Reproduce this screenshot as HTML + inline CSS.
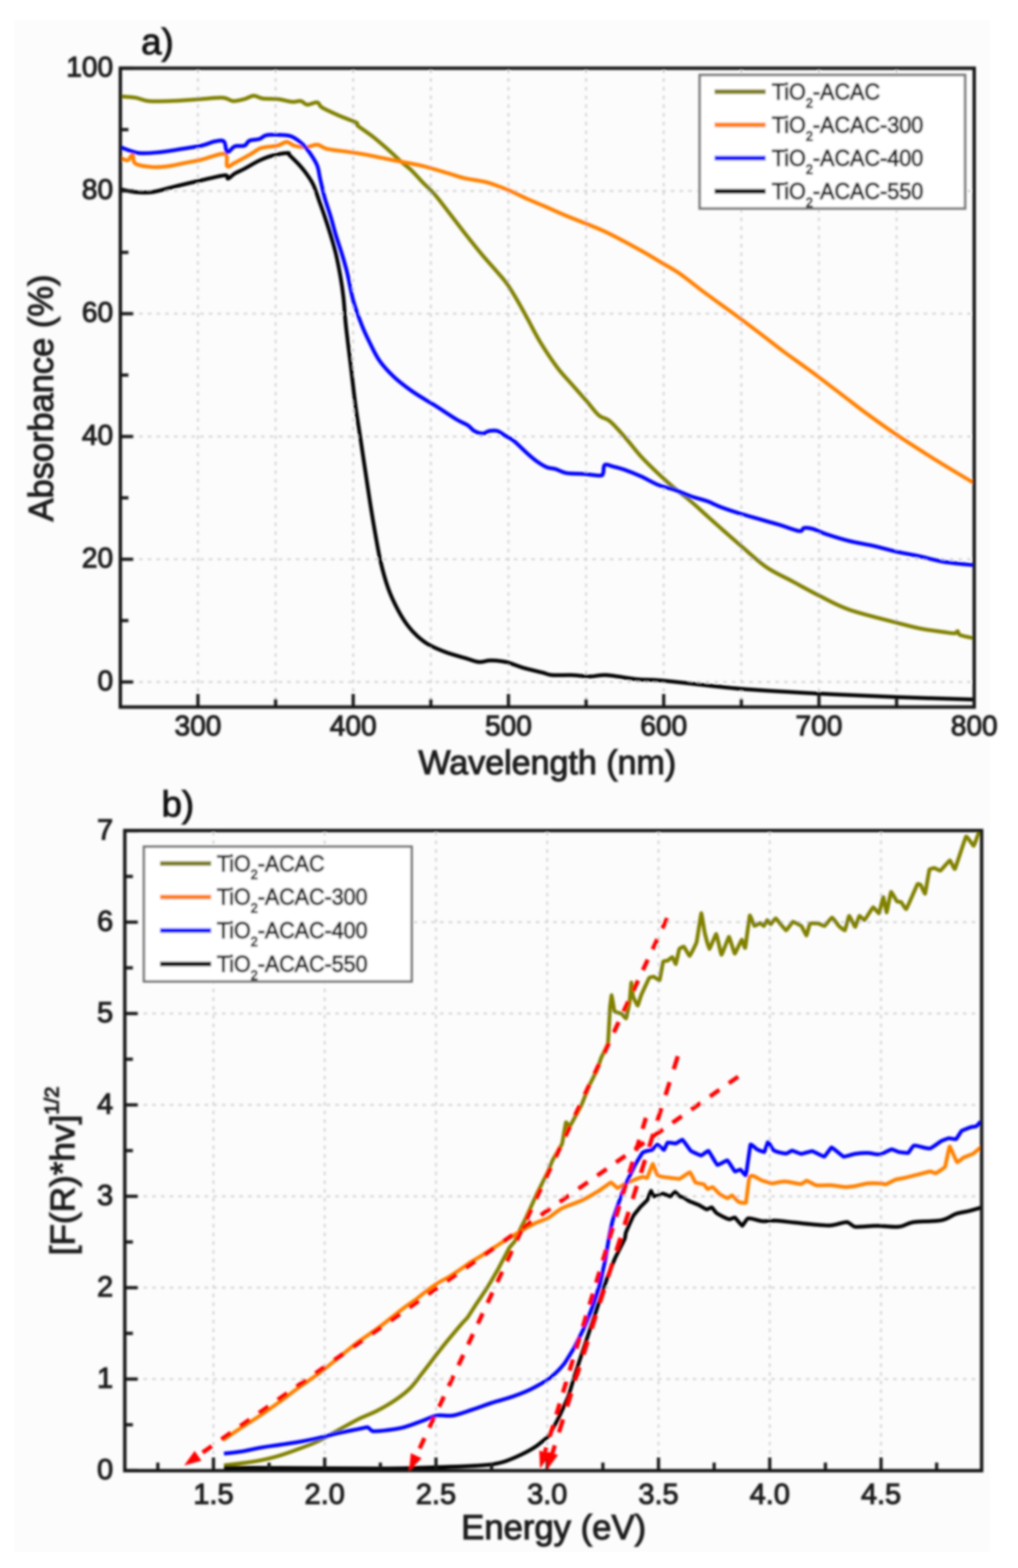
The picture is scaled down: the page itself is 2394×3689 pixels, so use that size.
<!DOCTYPE html>
<html><head><meta charset="utf-8"><title>Absorbance and Kubelka-Munk plots</title>
<style>html,body{margin:0;padding:0;background:#fff;}svg{display:block;}</style>
</head><body>
<svg width="2394" height="3689" viewBox="0 0 2394 3689">
<defs><filter id="bl" x="-5%" y="-5%" width="110%" height="110%"><feGaussianBlur stdDeviation="2.4"/></filter></defs>
<rect x="0" y="0" width="2394" height="3689" fill="#ffffff"/>
<rect x="34" y="48" width="2293" height="3603" fill="#fcfcfc"/>
<style>text{stroke:#1c1c1c;stroke-width:2.4px;}</style>
<g filter="url(#bl)">
<path d="M465.5,163.5V1660.5M648.1,163.5V1660.5M830.6,163.5V1660.5M1013.2,163.5V1660.5M1195.7,163.5V1660.5M1378.3,163.5V1660.5M1560.8,163.5V1660.5M1743.4,163.5V1660.5M1925.9,163.5V1660.5M2108.5,163.5V1660.5M286.0,1604.5H2288.0M286.0,1315.7H2288.0M286.0,1026.9H2288.0M286.0,738.1H2288.0M286.0,449.3H2288.0" stroke="#d4d4d4" stroke-width="4.5" stroke-dasharray="8.5 12" fill="none"/>
<path d="M283.9,226.8C289.7,227.3 307.8,228.1 318.8,229.9C329.8,231.7 336.9,236.4 349.9,237.7C362.8,239.0 382.3,238.0 396.5,237.7C410.7,237.4 422.4,236.5 435.3,235.7C448.2,234.9 459.3,234.0 474.2,233.0C489.1,232.0 512.4,229.1 524.7,229.9C537.0,230.7 539.6,237.2 548.0,237.7C556.4,238.2 567.0,235.1 575.1,233.0C583.2,230.9 589.4,225.4 596.5,225.2C603.6,225.0 608.5,230.5 617.9,231.8C627.3,233.1 641.1,231.7 652.8,233.0C664.4,234.3 678.7,238.8 687.8,239.6C696.9,240.4 701.4,236.6 707.2,237.7C713.0,238.8 716.2,245.7 722.7,246.2C729.2,246.7 740.2,239.6 746.0,240.8C751.8,242.0 748.9,247.9 757.7,253.2C766.5,258.5 785.5,266.8 798.8,272.7C812.1,278.6 830.6,284.4 837.7,288.3C844.8,292.2 835.1,290.5 841.6,296.0C848.1,301.5 864.2,311.6 876.5,321.3C888.8,331.0 904.0,344.3 915.3,354.3C926.6,364.3 935.8,373.7 944.5,381.5C953.2,389.3 959.7,393.1 967.8,400.9C975.9,408.6 984.0,418.6 993.0,428.0C1002.0,437.4 1011.9,445.5 1022.1,457.2C1032.3,468.9 1042.3,482.7 1054.2,498.0C1066.1,513.3 1080.4,532.5 1093.5,549.2C1106.6,565.9 1120.6,583.6 1132.9,598.4C1145.2,613.1 1157.5,626.2 1167.3,637.7C1177.1,649.2 1183.7,655.7 1191.9,667.2C1200.1,678.7 1208.3,692.7 1216.5,706.6C1224.7,720.5 1232.1,734.5 1241.1,750.9C1250.1,767.3 1259.1,786.1 1270.6,805.0C1282.1,823.9 1298.5,848.4 1310.0,864.0C1321.5,879.6 1328.0,885.3 1339.5,898.4C1351.0,911.5 1367.3,929.6 1378.8,942.7C1390.3,955.8 1399.1,969.2 1408.3,977.2C1417.5,985.2 1423.9,982.4 1434.0,990.8C1444.1,999.2 1456.6,1013.8 1468.9,1027.7C1481.2,1041.6 1494.8,1060.1 1507.8,1074.3C1520.8,1088.5 1533.7,1100.8 1546.6,1113.1C1559.5,1125.4 1572.5,1137.0 1585.4,1148.0C1598.4,1159.0 1611.3,1168.1 1624.3,1179.1C1637.2,1190.1 1650.5,1202.8 1663.1,1214.1C1675.7,1225.4 1686.8,1235.4 1700.0,1247.0C1713.2,1258.6 1725.2,1269.4 1742.2,1283.9C1759.2,1298.4 1781.7,1320.1 1801.8,1334.0C1821.9,1347.9 1842.4,1356.3 1863.0,1367.4C1883.6,1378.5 1903.1,1389.7 1925.4,1400.8C1947.7,1411.9 1966.2,1423.5 1996.6,1434.2C2027.0,1444.9 2080.2,1457.4 2108.0,1464.8C2135.8,1472.2 2145.0,1475.0 2163.6,1478.7C2182.2,1482.4 2205.7,1485.1 2219.3,1487.0C2232.9,1488.9 2239.6,1490.3 2245.0,1490.0C2250.4,1489.7 2249.8,1484.3 2252.0,1485.0C2254.2,1485.7 2252.0,1491.3 2258.0,1494.0C2264.0,1496.7 2283.0,1499.8 2288.0,1501.0" fill="none" stroke="#808000" stroke-width="9" stroke-linejoin="round" stroke-linecap="butt"/>
<path d="M283.9,371.7C286.6,372.6 295.8,377.9 300.0,377.0C304.2,376.1 306.8,367.8 309.0,366.0C311.2,364.2 311.4,362.8 313.0,366.0C314.6,369.2 311.4,380.7 318.8,385.2C326.2,389.7 344.8,392.0 357.7,393.0C370.6,394.0 383.6,392.6 396.5,391.0C409.4,389.4 422.4,385.9 435.3,383.3C448.2,380.7 458.7,379.1 474.2,375.5C489.7,371.9 518.5,359.4 528.5,362.0C538.5,364.6 530.5,387.4 534.4,391.0C538.3,394.6 542.4,388.1 551.8,383.3C561.2,378.5 580.3,367.8 590.7,362.0C601.1,356.2 603.6,351.6 614.0,348.3C624.4,345.1 642.8,344.9 652.8,342.5C662.8,340.1 667.7,334.0 674.2,334.0C680.7,334.0 684.3,340.4 691.7,342.5C699.1,344.6 709.8,346.7 718.8,346.4C727.8,346.1 737.6,340.0 746.0,340.6C754.4,341.2 756.3,347.4 769.3,350.3C782.2,353.2 808.6,355.7 823.7,358.0C838.8,360.3 847.5,361.6 860.0,363.9C872.5,366.2 885.8,369.1 898.8,371.7C911.8,374.3 921.5,376.2 937.7,379.4C953.9,382.6 976.5,386.3 995.9,391.0C1015.3,395.7 1038.0,403.1 1054.2,407.8C1070.4,412.5 1078.1,415.9 1093.0,419.4C1107.9,422.9 1126.7,424.2 1143.5,428.7C1160.3,433.2 1177.9,440.1 1194.0,446.6C1210.1,453.2 1226.0,461.8 1240.0,468.0C1254.0,474.2 1262.7,477.5 1277.7,484.0C1292.7,490.5 1306.2,497.0 1330.0,507.0C1353.8,517.0 1391.6,530.5 1420.7,544.0C1449.8,557.5 1483.2,576.2 1504.8,588.0C1526.3,599.8 1534.4,605.3 1550.0,614.6C1565.6,623.9 1582.3,632.6 1598.5,643.7C1614.7,654.8 1630.9,668.9 1647.1,681.0C1663.3,693.1 1680.6,705.6 1695.6,716.5C1710.6,727.4 1720.7,734.5 1736.9,746.5C1753.1,758.5 1775.3,775.2 1792.7,788.5C1810.1,801.8 1825.1,813.9 1841.3,826.0C1857.5,838.1 1875.8,850.8 1889.8,861.0C1903.8,871.2 1909.0,874.8 1925.2,887.0C1941.4,899.2 1968.5,920.0 1986.9,934.0C2005.3,948.0 2015.3,956.3 2035.4,971.0C2055.5,985.7 2083.0,1005.5 2107.3,1022.0C2131.6,1038.5 2160.7,1057.0 2181.1,1070.0C2201.5,1083.0 2211.8,1089.2 2229.6,1100.0C2247.4,1110.8 2278.3,1129.2 2288.0,1135.0" fill="none" stroke="#ff8000" stroke-width="9" stroke-linejoin="round" stroke-linecap="butt"/>
<path d="M283.9,346.4C291.0,348.7 311.1,358.1 326.6,360.0C342.1,361.9 360.2,359.6 377.0,358.0C393.8,356.4 411.4,352.9 427.6,350.3C443.8,347.7 461.3,345.4 474.2,342.5C487.1,339.6 496.5,334.4 505.2,332.8C513.9,331.2 521.7,328.6 526.6,332.8C531.5,337.0 530.2,356.1 534.4,358.0C538.6,359.9 545.0,347.1 551.8,344.5C558.6,341.9 569.3,344.8 575.1,342.5C580.9,340.2 581.0,333.5 586.8,330.9C592.6,328.3 603.6,329.1 610.1,327.0C616.6,324.9 618.5,320.0 625.6,318.4C632.7,316.8 643.0,316.9 652.8,317.3C662.5,317.7 674.5,317.1 684.1,320.6C693.7,324.1 703.2,331.8 710.6,338.3C718.0,344.8 722.4,350.9 728.3,359.4C734.2,367.9 741.8,379.1 745.9,389.4C750.0,399.7 750.0,408.5 753.0,421.2C756.0,433.9 759.5,450.6 763.6,465.3C767.7,480.0 773.3,494.8 777.7,509.5C782.1,524.2 785.6,538.9 790.0,553.6C794.4,568.3 799.8,583.0 804.2,597.7C808.6,612.4 812.0,623.5 816.5,641.9C821.0,660.3 825.2,687.3 831.0,708.0C836.8,728.7 844.8,749.6 851.3,766.2C857.8,782.8 863.3,793.9 870.3,807.8C877.2,821.7 883.5,836.1 893.0,849.4C902.5,862.6 915.0,875.9 927.0,887.3C939.0,898.6 952.7,908.7 964.9,917.5C977.1,926.3 990.0,934.0 1000.0,940.2C1010.0,946.5 1012.4,947.2 1024.7,955.0C1037.0,962.8 1061.4,979.4 1073.9,987.0C1086.5,994.6 1093.1,996.0 1100.0,1000.5C1106.9,1005.0 1109.7,1010.8 1115.5,1014.0C1121.3,1017.2 1129.2,1019.9 1135.0,1019.9C1140.8,1019.9 1144.7,1015.0 1150.5,1014.0C1156.3,1013.0 1163.4,1012.0 1169.9,1014.0C1176.4,1016.0 1182.8,1021.8 1189.3,1025.7C1195.8,1029.6 1200.3,1030.6 1208.7,1037.4C1217.1,1044.2 1230.7,1058.4 1239.8,1066.5C1248.9,1074.6 1255.3,1080.4 1263.1,1085.9C1270.9,1091.4 1279.3,1096.6 1286.4,1099.5C1293.5,1102.4 1298.0,1101.1 1305.8,1103.4C1313.6,1105.7 1322.0,1111.2 1333.0,1113.1C1344.0,1115.0 1358.8,1114.0 1371.8,1115.0C1384.8,1116.0 1402.9,1119.2 1410.7,1118.9C1418.5,1118.6 1416.5,1117.3 1418.4,1113.1C1420.3,1108.9 1418.4,1096.3 1422.3,1093.7C1426.2,1091.1 1433.9,1095.7 1441.7,1097.6C1449.5,1099.5 1457.9,1101.4 1468.9,1105.3C1479.9,1109.2 1494.8,1115.1 1507.8,1120.9C1520.8,1126.7 1533.7,1135.1 1546.6,1140.3C1559.5,1145.5 1572.5,1147.5 1585.4,1152.0C1598.4,1156.5 1611.3,1163.0 1624.3,1167.5C1637.2,1172.0 1651.4,1174.9 1663.1,1179.1C1674.8,1183.3 1681.0,1187.8 1694.2,1192.7C1707.4,1197.6 1719.6,1201.9 1742.2,1208.7C1764.8,1215.5 1806.7,1227.0 1829.6,1233.8C1852.5,1240.6 1869.5,1248.0 1879.7,1249.4C1889.9,1250.8 1885.3,1242.8 1890.9,1242.1C1896.5,1241.3 1904.8,1242.6 1913.1,1244.9C1921.4,1247.2 1927.1,1251.4 1941.0,1256.0C1954.9,1260.6 1978.0,1268.0 1996.6,1272.7C2015.1,1277.4 2033.7,1279.7 2052.3,1283.9C2070.9,1288.1 2089.4,1293.6 2108.0,1297.8C2126.6,1302.0 2145.0,1305.0 2163.6,1309.0C2182.2,1313.0 2198.6,1318.3 2219.3,1321.7C2240.0,1325.1 2276.6,1328.2 2288.0,1329.5" fill="none" stroke="#0000ff" stroke-width="9" stroke-linejoin="round" stroke-linecap="butt"/>
<path d="M283.9,445.4C289.7,446.5 306.5,450.9 318.8,452.0C331.1,453.1 342.8,454.1 357.7,452.0C372.6,449.9 388.8,444.3 408.2,439.6C427.6,434.9 454.1,428.5 474.2,424.0C494.2,419.5 518.1,413.0 528.5,412.4C538.9,411.8 532.4,420.8 536.3,420.2C540.2,419.6 545.3,412.4 551.8,408.5C558.3,404.6 565.4,402.1 575.1,396.9C584.8,391.7 599.1,382.7 610.1,377.5C621.1,372.3 630.2,368.7 641.2,365.8C652.2,362.9 669.5,360.2 676.1,360.0C682.7,359.8 676.3,360.4 680.6,364.7C684.9,369.0 695.3,378.8 701.8,385.9C708.3,393.0 713.5,398.9 719.4,407.1C725.3,415.3 731.8,424.1 737.1,435.3C742.4,446.5 746.8,461.8 751.2,474.2C755.6,486.6 759.2,496.3 763.6,509.5C768.0,522.7 773.3,538.9 777.7,553.6C782.1,568.3 786.2,581.5 790.0,597.7C793.8,613.9 797.6,633.7 800.6,650.7C803.6,667.8 805.6,680.8 807.7,700.0C809.9,719.2 810.6,739.4 813.5,766.2C816.4,793.0 821.1,829.3 824.9,860.8C828.7,892.3 832.4,927.0 836.2,955.4C840.0,983.8 843.8,1005.8 847.6,1031.0C851.4,1056.2 855.1,1081.5 858.9,1106.7C862.7,1131.9 866.5,1158.4 870.3,1182.4C874.1,1206.4 877.5,1227.2 881.6,1250.5C885.8,1273.8 889.9,1299.4 895.2,1321.9C900.5,1344.4 906.5,1366.4 913.3,1385.3C920.1,1404.2 928.3,1420.8 935.9,1435.1C943.5,1449.4 951.0,1461.2 958.6,1471.4C966.2,1481.6 972.9,1488.8 981.2,1496.3C989.5,1503.8 997.1,1510.3 1008.4,1516.7C1019.7,1523.1 1034.9,1529.5 1049.2,1534.8C1063.5,1540.1 1081.7,1544.6 1094.5,1548.4C1107.3,1552.2 1116.4,1556.6 1126.2,1557.5C1136.0,1558.4 1142.8,1553.8 1153.4,1553.8C1164.0,1553.8 1176.9,1554.6 1189.7,1557.5C1202.5,1560.4 1216.1,1566.9 1230.4,1571.1C1244.8,1575.2 1264.5,1579.5 1275.8,1582.4C1287.1,1585.3 1287.1,1587.3 1298.4,1588.3C1309.7,1589.3 1328.6,1587.8 1343.7,1588.3C1358.8,1588.8 1375.4,1591.5 1389.0,1591.5C1402.6,1591.5 1406.8,1587.2 1425.3,1588.3C1443.8,1589.4 1477.8,1596.1 1500.0,1598.3C1522.2,1600.5 1518.2,1597.5 1558.6,1601.2C1599.0,1604.9 1681.1,1615.5 1742.2,1620.6C1803.3,1625.7 1864.4,1628.6 1925.4,1631.8C1986.4,1635.0 2047.6,1637.7 2108.0,1640.0C2168.4,1642.3 2258.0,1644.8 2288.0,1645.7" fill="none" stroke="#000000" stroke-width="9" stroke-linejoin="round" stroke-linecap="butt"/>
<path d="M465.5,1663.5V1632.5M648.1,1663.5V1644.5M830.6,1663.5V1632.5M1013.2,1663.5V1644.5M1195.7,1663.5V1632.5M1378.3,1663.5V1644.5M1560.8,1663.5V1632.5M1743.4,1663.5V1644.5M1925.9,1663.5V1632.5M2108.5,1663.5V1644.5M2291.0,1663.5V1632.5M283.0,1604.5H314.0M283.0,1460.1H302.0M283.0,1315.7H314.0M283.0,1171.3H302.0M283.0,1026.9H314.0M283.0,882.5H302.0M283.0,738.1H314.0M283.0,593.7H302.0M283.0,449.3H314.0M283.0,304.9H302.0M283.0,160.5H314.0" stroke="#141414" stroke-width="7.5" fill="none"/>
<rect x="283" y="160.5" width="2008" height="1503.0" fill="none" stroke="#141414" stroke-width="8"/>
<rect x="1645.5" y="176.5" width="624.0" height="314.0" fill="#ffffff" stroke="#777777" stroke-width="6"/>
<line x1="1680.5" y1="215.7" x2="1800.5" y2="215.7" stroke="#808000" stroke-width="11"/>
<text transform="translate(1815,233.7) scale(1,1.045)" font-family='"Liberation Sans", Arial, Helvetica, sans-serif' font-size="50.8" fill="#1c1c1c">TiO<tspan font-size="30" dy="18">2</tspan><tspan dy="-18">-ACAC</tspan></text>
<line x1="1680.5" y1="293.8" x2="1800.5" y2="293.8" stroke="#ff8000" stroke-width="11"/>
<text transform="translate(1815,311.8) scale(1,1.045)" font-family='"Liberation Sans", Arial, Helvetica, sans-serif' font-size="50.8" fill="#1c1c1c">TiO<tspan font-size="30" dy="18">2</tspan><tspan dy="-18">-ACAC-300</tspan></text>
<line x1="1680.5" y1="371.9" x2="1800.5" y2="371.9" stroke="#0000ff" stroke-width="11"/>
<text transform="translate(1815,389.9) scale(1,1.045)" font-family='"Liberation Sans", Arial, Helvetica, sans-serif' font-size="50.8" fill="#1c1c1c">TiO<tspan font-size="30" dy="18">2</tspan><tspan dy="-18">-ACAC-400</tspan></text>
<line x1="1680.5" y1="450.0" x2="1800.5" y2="450.0" stroke="#000000" stroke-width="11"/>
<text transform="translate(1815,468.0) scale(1,1.045)" font-family='"Liberation Sans", Arial, Helvetica, sans-serif' font-size="50.8" fill="#1c1c1c">TiO<tspan font-size="30" dy="18">2</tspan><tspan dy="-18">-ACAC-550</tspan></text>
<text x="465.5" y="1730" font-family='"Liberation Sans", Arial, Helvetica, sans-serif' font-size="66" text-anchor="middle" fill="#1c1c1c">300</text>
<text x="830.6" y="1730" font-family='"Liberation Sans", Arial, Helvetica, sans-serif' font-size="66" text-anchor="middle" fill="#1c1c1c">400</text>
<text x="1195.7" y="1730" font-family='"Liberation Sans", Arial, Helvetica, sans-serif' font-size="66" text-anchor="middle" fill="#1c1c1c">500</text>
<text x="1560.8" y="1730" font-family='"Liberation Sans", Arial, Helvetica, sans-serif' font-size="66" text-anchor="middle" fill="#1c1c1c">600</text>
<text x="1925.9" y="1730" font-family='"Liberation Sans", Arial, Helvetica, sans-serif' font-size="66" text-anchor="middle" fill="#1c1c1c">700</text>
<text x="2291.0" y="1730" font-family='"Liberation Sans", Arial, Helvetica, sans-serif' font-size="66" text-anchor="middle" fill="#1c1c1c">800</text>
<text x="266" y="1623.5" font-family='"Liberation Sans", Arial, Helvetica, sans-serif' font-size="66" text-anchor="end" fill="#1c1c1c">0</text>
<text x="266" y="1334.7" font-family='"Liberation Sans", Arial, Helvetica, sans-serif' font-size="66" text-anchor="end" fill="#1c1c1c">20</text>
<text x="266" y="1045.9" font-family='"Liberation Sans", Arial, Helvetica, sans-serif' font-size="66" text-anchor="end" fill="#1c1c1c">40</text>
<text x="266" y="757.1" font-family='"Liberation Sans", Arial, Helvetica, sans-serif' font-size="66" text-anchor="end" fill="#1c1c1c">60</text>
<text x="266" y="468.3" font-family='"Liberation Sans", Arial, Helvetica, sans-serif' font-size="66" text-anchor="end" fill="#1c1c1c">80</text>
<text x="266" y="179.5" font-family='"Liberation Sans", Arial, Helvetica, sans-serif' font-size="66" text-anchor="end" fill="#1c1c1c">100</text>
<text x="1287" y="1821" font-family='"Liberation Sans", Arial, Helvetica, sans-serif' font-size="80" text-anchor="middle" fill="#1c1c1c">Wavelength (nm)</text>
<text transform="translate(124,936.5) rotate(-90)" x="0" y="0" font-family='"Liberation Sans", Arial, Helvetica, sans-serif' font-size="81" text-anchor="middle" fill="#1c1c1c">Absorbance (%)</text>
<text x="332" y="127" font-family='"Liberation Sans", Arial, Helvetica, sans-serif' font-size="86" fill="#111">a)</text>
<path d="M502.0,1957.0V3457.0M763.6,1957.0V3457.0M1025.3,1957.0V3457.0M1286.9,1957.0V3457.0M1548.6,1957.0V3457.0M1810.2,1957.0V3457.0M2071.9,1957.0V3457.0M296.5,3244.5H2305.5M296.5,3029.5H2305.5M296.5,2814.5H2305.5M296.5,2599.5H2305.5M296.5,2384.5H2305.5M296.5,2169.5H2305.5" stroke="#d4d4d4" stroke-width="4.5" stroke-dasharray="8.5 12" fill="none"/>
<path d="M526.7,3447.4C533.2,3446.6 551.5,3444.7 565.7,3442.8C579.9,3440.9 596.4,3439.0 611.7,3435.9C627.0,3432.8 642.3,3429.1 657.6,3424.5C672.9,3419.9 688.3,3414.2 703.6,3408.4C718.9,3402.7 734.3,3397.3 749.6,3390.0C764.9,3382.7 780.2,3373.1 795.5,3364.7C810.8,3356.3 826.2,3347.1 841.5,3339.4C856.8,3331.8 872.1,3326.8 887.4,3318.8C902.7,3310.8 920.4,3300.2 933.4,3291.2C946.4,3282.2 955.2,3275.7 965.6,3265.0C976.0,3254.3 983.3,3243.1 996.0,3226.8C1008.7,3210.5 1026.6,3186.2 1041.9,3167.1C1057.2,3148.0 1078.3,3123.2 1087.9,3112.0C1090.2,3109.3 1098.1,3101.7 1099.4,3099.9C1100.7,3098.1 1118.2,3070.6 1120.1,3067.8C1122.0,3065.0 1143.9,3032.3 1146.0,3029.0C1148.1,3025.7 1169.7,2988.7 1171.8,2985.0C1173.9,2981.3 1196.1,2938.4 1197.7,2935.8C1199.3,2933.2 1209.7,2922.0 1210.7,2920.2C1211.7,2918.4 1222.6,2893.9 1223.6,2891.7C1224.6,2889.5 1235.6,2868.1 1236.6,2865.9C1237.6,2863.7 1248.5,2839.7 1249.5,2837.4C1250.5,2835.1 1261.5,2811.1 1262.5,2808.9C1263.5,2806.7 1274.4,2785.1 1275.4,2783.0C1276.4,2780.9 1287.3,2759.3 1288.3,2757.1C1289.3,2754.9 1298.7,2731.2 1300.0,2728.6C1301.3,2726.0 1320.5,2694.7 1321.7,2691.2C1322.9,2687.7 1330.2,2642.3 1330.9,2640.6C1331.6,2638.9 1338.5,2651.5 1340.0,2649.8C1341.5,2648.1 1365.8,2603.2 1367.6,2599.3C1369.4,2595.4 1384.5,2556.6 1386.0,2553.3C1387.5,2550.0 1403.3,2519.1 1404.4,2516.5C1405.5,2513.9 1412.6,2491.5 1413.6,2489.0C1414.6,2486.5 1428.9,2459.2 1429.7,2454.5C1430.5,2449.8 1434.1,2375.8 1434.4,2371.3C1434.7,2366.8 1438.0,2341.1 1438.4,2341.4C1438.8,2341.7 1444.3,2377.8 1445.2,2379.5C1446.1,2381.2 1460.4,2384.2 1461.5,2384.9C1462.6,2385.6 1471.6,2396.9 1472.4,2395.8C1473.2,2394.7 1480.1,2361.1 1480.6,2357.7C1481.1,2354.3 1484.3,2312.0 1484.6,2311.5C1484.9,2311.0 1488.1,2341.9 1488.7,2344.1C1489.3,2346.3 1498.8,2366.0 1499.6,2365.9C1500.4,2365.8 1506.7,2344.0 1507.8,2341.4C1508.9,2338.8 1525.6,2302.3 1526.8,2300.6C1528.0,2298.9 1536.6,2297.7 1537.6,2297.9C1538.6,2298.1 1550.3,2307.5 1551.2,2306.1C1552.1,2304.7 1558.6,2264.4 1559.4,2262.6C1560.2,2260.8 1569.4,2260.3 1570.3,2259.9C1571.2,2259.5 1580.3,2251.4 1581.1,2251.7C1581.9,2252.0 1588.6,2268.8 1589.3,2268.0C1590.0,2267.2 1596.7,2234.3 1597.5,2232.7C1598.3,2231.1 1607.3,2226.5 1608.3,2227.2C1609.3,2227.9 1620.7,2249.4 1621.9,2249.0C1623.1,2248.6 1637.1,2220.4 1638.2,2216.4C1639.3,2212.4 1648.3,2149.3 1649.1,2148.4C1649.9,2147.5 1656.5,2191.2 1657.3,2194.6C1658.1,2198.0 1667.0,2232.6 1668.1,2232.7C1669.2,2232.8 1683.3,2196.8 1684.4,2197.3C1685.5,2197.8 1695.5,2246.0 1696.7,2246.3C1697.9,2246.6 1713.1,2204.2 1714.3,2204.1C1715.5,2204.0 1726.7,2243.3 1727.9,2243.6C1729.1,2243.9 1743.2,2211.4 1744.2,2210.9C1745.2,2210.4 1751.6,2232.3 1752.4,2230.0C1753.2,2227.7 1762.3,2156.0 1763.2,2153.9C1764.1,2151.8 1773.1,2177.6 1774.1,2178.3C1775.1,2179.0 1786.8,2171.5 1787.7,2171.5C1788.6,2171.5 1795.6,2179.0 1796.3,2178.7C1797.0,2178.4 1803.7,2164.9 1804.3,2164.7C1804.9,2164.5 1811.6,2174.9 1812.4,2174.7C1813.2,2174.5 1823.0,2160.1 1824.4,2160.7C1825.8,2161.3 1846.9,2188.5 1848.5,2188.8C1850.1,2189.1 1863.1,2169.1 1864.5,2168.7C1865.9,2168.3 1883.3,2177.4 1884.6,2178.7C1885.9,2180.0 1895.8,2201.0 1896.6,2200.8C1897.4,2200.6 1903.6,2173.8 1904.7,2172.7C1905.8,2171.6 1923.3,2172.5 1924.7,2172.7C1926.1,2172.9 1937.5,2179.3 1938.8,2178.7C1940.1,2178.1 1955.4,2158.7 1956.8,2158.7C1958.2,2158.7 1971.7,2177.5 1972.9,2178.7C1974.1,2179.9 1985.9,2189.8 1986.9,2188.8C1987.9,2187.8 1995.9,2155.0 1996.9,2154.7C1997.9,2154.4 2010.0,2180.7 2011.0,2180.7C2012.0,2180.7 2020.1,2155.3 2021.0,2154.7C2021.9,2154.1 2031.8,2165.5 2033.1,2164.7C2034.4,2163.9 2051.7,2135.2 2053.1,2134.6C2054.5,2134.0 2066.2,2149.6 2067.2,2148.6C2068.2,2147.6 2076.5,2110.6 2077.2,2110.5C2077.9,2110.4 2084.5,2147.1 2085.2,2146.6C2085.9,2146.1 2094.3,2099.5 2095.3,2098.5C2096.3,2097.5 2108.3,2119.5 2109.3,2120.5C2110.3,2121.5 2118.4,2121.8 2119.3,2122.5C2120.2,2123.2 2129.9,2140.3 2131.4,2138.6C2132.9,2136.9 2156.1,2082.6 2157.5,2080.4C2158.9,2078.2 2164.8,2081.5 2165.5,2082.4C2166.2,2083.3 2174.7,2103.9 2175.5,2102.5C2176.3,2101.1 2184.7,2048.7 2185.6,2046.3C2186.5,2043.9 2196.6,2042.2 2197.6,2042.3C2198.6,2042.4 2210.2,2049.0 2211.6,2048.3C2213.0,2047.6 2232.3,2024.4 2233.7,2024.2C2235.1,2024.0 2244.2,2046.5 2245.7,2044.3C2247.2,2042.1 2270.0,1970.3 2271.8,1968.1C2273.6,1965.9 2288.7,1990.5 2289.9,1990.1C2291.1,1989.7 2301.3,1959.4 2301.9,1958.0C2302.5,1956.6 2305.8,1955.1 2306.0,1955.0" fill="none" stroke="#808000" stroke-width="9" stroke-linejoin="round" stroke-linecap="butt"/>
<path d="M524.4,3387.7C531.3,3383.1 551.2,3369.7 565.7,3360.1C580.2,3350.5 596.4,3340.5 611.7,3330.2C627.0,3319.9 642.3,3309.2 657.6,3298.1C672.9,3287.0 688.3,3274.7 703.6,3263.6C718.9,3252.5 734.3,3242.9 749.6,3231.4C764.9,3219.9 780.2,3206.9 795.5,3194.7C810.8,3182.4 826.2,3169.4 841.5,3157.9C856.8,3146.4 874.2,3135.4 887.4,3125.7C900.6,3116.0 910.0,3108.2 920.7,3099.9C931.4,3091.6 942.3,3082.7 951.8,3075.6C954.1,3073.9 975.6,3059.0 977.7,3057.4C979.8,3055.8 1001.5,3038.3 1003.6,3036.7C1005.7,3035.1 1027.3,3019.9 1029.4,3018.6C1031.5,3017.3 1053.2,3005.6 1055.3,3004.4C1057.4,3003.2 1079.1,2988.9 1081.2,2987.5C1083.3,2986.1 1105.0,2970.7 1107.1,2969.4C1109.2,2968.1 1130.9,2955.2 1133.0,2953.9C1135.1,2952.6 1156.8,2938.4 1158.9,2937.1C1161.0,2935.8 1182.7,2921.5 1184.8,2920.2C1186.9,2918.9 1208.6,2905.9 1210.7,2904.7C1212.8,2903.5 1234.5,2890.3 1236.6,2889.2C1238.7,2888.1 1260.4,2877.1 1262.5,2876.2C1264.6,2875.3 1285.9,2867.2 1288.3,2865.9C1298.2,2860.3 1308.5,2849.7 1321.7,2842.8C1334.9,2835.9 1353.1,2831.2 1367.6,2824.4C1382.0,2817.6 1396.9,2808.8 1408.4,2801.7C1411.2,2800.0 1435.1,2782.3 1436.8,2782.0C1438.5,2781.7 1450.7,2795.0 1452.1,2795.1C1453.5,2795.2 1469.4,2785.2 1471.8,2784.2C1481.6,2779.8 1502.6,2771.1 1511.0,2768.9C1513.0,2768.4 1521.0,2772.2 1522.0,2771.0C1523.0,2769.8 1534.1,2738.6 1535.1,2738.3C1536.1,2738.0 1544.3,2763.2 1546.0,2764.5C1552.9,2770.0 1567.8,2769.6 1576.6,2771.1C1578.7,2771.5 1596.7,2773.8 1598.5,2773.3C1600.3,2772.8 1621.0,2757.7 1622.5,2758.0C1624.0,2758.3 1634.3,2780.9 1635.6,2782.0C1636.9,2783.1 1654.2,2785.8 1655.3,2786.4C1656.4,2787.0 1663.2,2797.0 1664.0,2797.3C1664.8,2797.6 1674.8,2792.3 1676.0,2792.8C1677.2,2793.3 1692.0,2809.2 1693.4,2810.2C1694.8,2811.2 1709.6,2818.8 1710.7,2818.9C1711.8,2819.0 1720.6,2812.1 1721.6,2812.4C1722.6,2812.7 1735.4,2826.8 1736.7,2827.5C1738.0,2828.2 1753.1,2832.0 1754.1,2829.7C1755.1,2827.4 1761.1,2771.1 1762.7,2769.0C1769.2,2760.3 1784.4,2775.2 1793.1,2777.7C1795.2,2778.3 1812.7,2784.1 1814.8,2784.2C1823.5,2784.5 1833.5,2779.6 1845.1,2779.8C1856.7,2780.0 1875.5,2785.8 1884.2,2785.5C1886.3,2785.4 1895.8,2777.6 1897.2,2777.7C1898.6,2777.8 1916.6,2788.1 1918.9,2788.5C1928.3,2790.3 1942.0,2787.8 1953.6,2788.5C1965.1,2789.2 1978.8,2792.4 1988.2,2792.8C1990.5,2792.9 2007.8,2791.0 2009.9,2790.7C2018.6,2789.3 2030.2,2785.3 2040.3,2784.2C2050.4,2783.1 2063.4,2783.8 2070.6,2784.2C2072.3,2784.3 2082.2,2786.6 2083.6,2786.3C2085.0,2786.0 2103.6,2776.1 2105.3,2775.5C2107.0,2774.9 2124.4,2771.8 2127.0,2771.2C2137.8,2768.7 2160.3,2762.8 2170.4,2760.3C2172.8,2759.7 2186.5,2756.0 2187.7,2756.0C2188.9,2756.0 2199.3,2760.7 2200.7,2760.3C2202.1,2759.9 2221.1,2747.6 2222.4,2745.1C2223.7,2742.6 2232.2,2697.8 2233.3,2697.4C2234.4,2697.0 2249.3,2733.3 2250.6,2734.3C2251.9,2735.3 2264.3,2724.3 2265.8,2723.5C2267.3,2722.7 2285.9,2715.8 2287.5,2714.8C2289.1,2713.8 2305.3,2700.2 2306.0,2699.6" fill="none" stroke="#ff8000" stroke-width="9" stroke-linejoin="round" stroke-linecap="butt"/>
<path d="M526.7,3419.9C533.2,3419.1 551.5,3417.6 565.7,3415.3C579.9,3413.0 596.4,3408.8 611.7,3406.1C627.0,3403.4 642.3,3401.5 657.6,3399.2C672.9,3396.9 688.3,3395.0 703.6,3392.3C718.9,3389.6 734.3,3386.6 749.6,3383.1C764.9,3379.6 780.2,3375.0 795.5,3371.6C810.8,3368.2 830.0,3364.7 841.5,3362.4C844.3,3361.8 863.1,3357.6 864.5,3357.8C865.9,3358.0 874.1,3366.7 875.9,3367.0C883.5,3368.2 898.0,3366.2 910.4,3364.7C922.8,3363.2 935.7,3361.6 950.0,3357.8C964.3,3354.0 983.0,3346.3 996.0,3341.7C1009.0,3337.1 1016.6,3332.1 1028.1,3330.2C1039.6,3328.3 1051.1,3332.5 1064.9,3330.2C1078.7,3327.9 1095.5,3321.4 1110.8,3316.4C1126.1,3311.4 1141.5,3305.4 1156.8,3300.4C1172.1,3295.4 1187.5,3292.0 1202.8,3286.6C1218.1,3281.2 1233.4,3275.9 1248.7,3268.2C1264.0,3260.5 1281.7,3250.5 1294.7,3240.6C1307.7,3230.7 1317.6,3220.0 1326.8,3208.5C1329.0,3205.7 1348.0,3175.0 1349.8,3171.7C1351.6,3168.4 1371.1,3129.4 1372.8,3125.7C1374.5,3122.0 1389.7,3083.8 1391.2,3079.8C1392.7,3075.8 1408.3,3029.2 1409.6,3024.6C1410.9,3020.0 1422.4,2969.5 1423.3,2964.9C1424.2,2960.3 1431.8,2913.5 1432.5,2909.7C1433.2,2905.9 1439.8,2874.6 1441.2,2870.0C1442.6,2865.4 1465.3,2800.2 1467.4,2795.0C1469.5,2789.8 1491.9,2743.8 1493.6,2740.5C1495.3,2737.2 1509.9,2713.3 1511.0,2712.0C1512.1,2710.7 1521.1,2708.0 1522.0,2707.7C1522.9,2707.4 1532.0,2706.1 1533.0,2705.5C1534.0,2704.9 1544.9,2692.4 1546.0,2692.4C1547.1,2692.4 1560.3,2705.7 1561.3,2705.5C1562.3,2705.3 1568.9,2688.6 1570.0,2688.0C1571.1,2687.4 1588.3,2690.5 1589.7,2690.2C1591.1,2689.9 1603.6,2680.8 1605.0,2681.5C1606.4,2682.2 1623.0,2706.2 1624.7,2707.7C1626.4,2709.2 1647.0,2718.6 1648.7,2718.6C1650.4,2718.6 1664.7,2706.8 1666.2,2707.7C1667.7,2708.6 1685.1,2739.9 1686.9,2740.8C1688.7,2741.7 1709.1,2729.4 1710.7,2730.0C1712.3,2730.6 1726.9,2755.1 1728.1,2756.0C1729.3,2756.9 1740.1,2751.3 1741.1,2751.6C1742.1,2751.9 1753.1,2767.0 1754.1,2764.7C1755.1,2762.4 1763.9,2695.5 1764.9,2693.1C1765.9,2690.7 1778.8,2703.3 1780.1,2704.0C1781.4,2704.7 1796.4,2711.1 1797.4,2710.4C1798.4,2709.7 1805.2,2686.8 1806.1,2686.6C1807.0,2686.4 1817.4,2705.0 1819.1,2706.1C1826.3,2710.7 1842.3,2713.8 1849.5,2713.9C1851.2,2713.9 1861.1,2707.0 1862.5,2707.0C1863.9,2707.0 1882.3,2714.7 1884.2,2714.8C1886.1,2714.9 1908.0,2708.0 1910.2,2708.3C1912.4,2708.6 1936.6,2721.6 1938.4,2721.3C1940.2,2721.0 1953.9,2699.6 1955.7,2699.6C1957.5,2699.6 1981.7,2720.7 1983.9,2721.3C1986.1,2721.9 2007.6,2715.1 2009.9,2714.8C2019.3,2713.4 2030.2,2712.4 2040.3,2712.6C2050.4,2712.8 2061.2,2717.1 2070.6,2715.7C2072.9,2715.4 2095.0,2704.2 2096.7,2704.0C2098.4,2703.8 2112.4,2710.1 2114.0,2710.4C2115.6,2710.7 2134.3,2713.2 2135.7,2712.6C2137.1,2712.0 2146.6,2695.7 2148.7,2695.3C2157.4,2693.5 2176.9,2703.6 2187.7,2701.8C2190.3,2701.4 2212.0,2685.4 2213.7,2684.4C2215.4,2683.4 2229.7,2678.1 2231.1,2677.9C2232.5,2677.7 2247.2,2680.8 2248.4,2680.1C2249.6,2679.4 2260.0,2661.7 2261.4,2660.6C2262.8,2659.5 2281.7,2652.3 2283.1,2651.9C2284.5,2651.5 2295.2,2650.2 2296.1,2649.7C2297.0,2649.2 2305.6,2639.4 2306.0,2639.0" fill="none" stroke="#0000ff" stroke-width="9" stroke-linejoin="round" stroke-linecap="butt"/>
<path d="M526.7,3453.0C555.6,3453.2 637.8,3453.7 700.0,3454.0C762.2,3454.3 850.0,3455.2 900.0,3455.0C950.0,3454.8 976.4,3453.6 1000.0,3453.0C1023.6,3452.4 1019.6,3452.4 1041.9,3451.5C1064.2,3450.6 1110.8,3449.2 1133.8,3447.4C1156.8,3445.6 1164.5,3444.7 1179.8,3440.5C1195.1,3436.3 1211.9,3428.7 1225.7,3422.2C1239.5,3415.7 1251.8,3408.8 1262.5,3401.5C1265.1,3399.8 1288.1,3381.1 1290.1,3378.5C1292.1,3375.9 1311.2,3340.8 1313.0,3337.1C1314.8,3333.4 1334.3,3291.0 1336.0,3286.6C1337.7,3282.2 1352.9,3231.4 1354.4,3226.8C1355.9,3222.2 1371.3,3176.1 1372.8,3171.7C1374.3,3167.3 1389.7,3120.9 1391.2,3116.5C1392.7,3112.1 1408.1,3065.8 1409.6,3061.4C1411.1,3057.0 1426.5,3010.3 1428.0,3006.3C1429.5,3002.3 1444.6,2964.0 1446.3,2960.3C1448.0,2956.6 1468.3,2916.7 1469.3,2914.3C1470.3,2911.9 1471.0,2902.1 1471.8,2900.0C1472.6,2897.9 1487.8,2863.1 1489.2,2860.7C1490.6,2858.3 1505.4,2840.3 1506.7,2838.8C1508.0,2837.3 1521.0,2825.0 1522.0,2823.5C1523.0,2822.0 1530.2,2802.0 1530.8,2801.7C1531.4,2801.4 1536.2,2814.5 1537.3,2814.8C1538.4,2815.1 1557.6,2808.2 1559.2,2808.2C1560.8,2808.2 1575.5,2815.0 1576.6,2814.8C1577.7,2814.6 1586.7,2803.9 1587.6,2803.9C1588.5,2803.9 1597.7,2814.3 1598.5,2814.8C1599.3,2815.3 1606.3,2816.6 1607.2,2817.0C1608.1,2817.4 1618.9,2825.0 1620.3,2825.7C1621.7,2826.4 1640.5,2833.6 1642.2,2834.4C1643.9,2835.2 1660.5,2845.2 1661.8,2845.4C1663.1,2845.6 1673.0,2840.2 1673.9,2840.5C1674.8,2840.8 1683.1,2852.5 1684.7,2853.6C1691.5,2858.3 1707.8,2866.9 1715.0,2868.7C1716.7,2869.1 1726.9,2863.8 1728.1,2864.4C1729.3,2865.0 1744.2,2883.8 1745.4,2883.9C1746.6,2884.0 1756.5,2867.0 1758.4,2866.6C1766.4,2864.8 1782.2,2872.2 1793.1,2873.1C1803.9,2874.0 1811.2,2871.3 1823.5,2871.8C1835.8,2872.3 1852.3,2874.7 1866.8,2876.1C1881.2,2877.5 1895.7,2879.2 1910.2,2880.4C1924.7,2881.6 1939.9,2883.9 1953.6,2883.0C1967.3,2882.1 1983.2,2874.7 1992.6,2875.2C1994.9,2875.3 2007.1,2885.8 2009.9,2886.1C2021.5,2887.6 2044.7,2883.9 2062.0,2883.9C2079.3,2883.9 2099.6,2887.6 2114.0,2886.1C2128.4,2884.6 2132.1,2877.7 2148.7,2875.2C2165.3,2872.7 2197.1,2874.2 2213.7,2870.9C2230.3,2867.7 2237.6,2859.3 2248.4,2855.7C2259.2,2852.1 2269.2,2851.6 2278.8,2849.2C2281.1,2848.6 2304.9,2841.7 2306.0,2841.4" fill="none" stroke="#000000" stroke-width="9" stroke-linejoin="round" stroke-linecap="butt"/>
<path d="M371.2,3460.0V3441.0M502.0,3460.0V3429.0M632.8,3460.0V3441.0M763.6,3460.0V3429.0M894.5,3460.0V3441.0M1025.3,3460.0V3429.0M1156.1,3460.0V3441.0M1286.9,3460.0V3429.0M1417.8,3460.0V3441.0M1548.6,3460.0V3429.0M1679.4,3460.0V3441.0M1810.2,3460.0V3429.0M1941.1,3460.0V3441.0M2071.9,3460.0V3429.0M2202.7,3460.0V3441.0M293.5,3459.5H324.5M293.5,3352.0H312.5M293.5,3244.5H324.5M293.5,3137.0H312.5M293.5,3029.5H324.5M293.5,2922.0H312.5M293.5,2814.5H324.5M293.5,2707.0H312.5M293.5,2599.5H324.5M293.5,2492.0H312.5M293.5,2384.5H324.5M293.5,2277.0H312.5M293.5,2169.5H324.5M293.5,2062.0H312.5M293.5,1954.5H324.5" stroke="#141414" stroke-width="7.5" fill="none"/>
<rect x="293.5" y="1954.0" width="2015.0" height="1506.0" fill="none" stroke="#141414" stroke-width="8"/>
<rect x="338.5" y="1992" width="629.5" height="317" fill="#ffffff" stroke="#777777" stroke-width="6"/>
<line x1="376.5" y1="2031.6" x2="496.5" y2="2031.6" stroke="#808000" stroke-width="11"/>
<text transform="translate(510,2049.6) scale(1,1.045)" font-family='"Liberation Sans", Arial, Helvetica, sans-serif' font-size="50.5" fill="#1c1c1c">TiO<tspan font-size="30" dy="18">2</tspan><tspan dy="-18">-ACAC</tspan></text>
<line x1="376.5" y1="2110.4" x2="496.5" y2="2110.4" stroke="#ff8000" stroke-width="11"/>
<text transform="translate(510,2128.4) scale(1,1.045)" font-family='"Liberation Sans", Arial, Helvetica, sans-serif' font-size="50.5" fill="#1c1c1c">TiO<tspan font-size="30" dy="18">2</tspan><tspan dy="-18">-ACAC-300</tspan></text>
<line x1="376.5" y1="2189.2" x2="496.5" y2="2189.2" stroke="#0000ff" stroke-width="11"/>
<text transform="translate(510,2207.2) scale(1,1.045)" font-family='"Liberation Sans", Arial, Helvetica, sans-serif' font-size="50.5" fill="#1c1c1c">TiO<tspan font-size="30" dy="18">2</tspan><tspan dy="-18">-ACAC-400</tspan></text>
<line x1="376.5" y1="2268.0" x2="496.5" y2="2268.0" stroke="#000000" stroke-width="11"/>
<text transform="translate(510,2286.0) scale(1,1.045)" font-family='"Liberation Sans", Arial, Helvetica, sans-serif' font-size="50.5" fill="#1c1c1c">TiO<tspan font-size="30" dy="18">2</tspan><tspan dy="-18">-ACAC-550</tspan></text>
<line x1="1736.0" y1="2533.0" x2="465.7" y2="3425.0" stroke="#ff0000" stroke-width="10" stroke-dasharray="27 27"/>
<polygon points="433.0,3448.0 473.8,3436.5 457.7,3413.6" fill="#ff0000"/>
<line x1="1569.0" y1="2160.0" x2="978.9" y2="3424.8" stroke="#ff0000" stroke-width="10" stroke-dasharray="27 27"/>
<polygon points="962.0,3461.0 991.6,3430.7 966.2,3418.8" fill="#ff0000"/>
<line x1="1519.0" y1="2630.0" x2="1281.6" y2="3416.7" stroke="#ff0000" stroke-width="10" stroke-dasharray="27 27"/>
<polygon points="1270.0,3455.0 1295.0,3420.8 1268.2,3412.7" fill="#ff0000"/>
<line x1="1594.0" y1="2485.0" x2="1299.0" y2="3418.9" stroke="#ff0000" stroke-width="10" stroke-dasharray="32 32"/>
<polygon points="1287.0,3457.0 1312.4,3423.1 1285.7,3414.6" fill="#ff0000"/>
<text x="502.0" y="3538" font-family='"Liberation Sans", Arial, Helvetica, sans-serif' font-size="68" text-anchor="middle" fill="#1c1c1c">1.5</text>
<text x="763.6" y="3538" font-family='"Liberation Sans", Arial, Helvetica, sans-serif' font-size="68" text-anchor="middle" fill="#1c1c1c">2.0</text>
<text x="1025.3" y="3538" font-family='"Liberation Sans", Arial, Helvetica, sans-serif' font-size="68" text-anchor="middle" fill="#1c1c1c">2.5</text>
<text x="1286.9" y="3538" font-family='"Liberation Sans", Arial, Helvetica, sans-serif' font-size="68" text-anchor="middle" fill="#1c1c1c">3.0</text>
<text x="1548.6" y="3538" font-family='"Liberation Sans", Arial, Helvetica, sans-serif' font-size="68" text-anchor="middle" fill="#1c1c1c">3.5</text>
<text x="1810.2" y="3538" font-family='"Liberation Sans", Arial, Helvetica, sans-serif' font-size="68" text-anchor="middle" fill="#1c1c1c">4.0</text>
<text x="2071.9" y="3538" font-family='"Liberation Sans", Arial, Helvetica, sans-serif' font-size="68" text-anchor="middle" fill="#1c1c1c">4.5</text>
<text x="266" y="3479.5" font-family='"Liberation Sans", Arial, Helvetica, sans-serif' font-size="68" text-anchor="end" fill="#1c1c1c">0</text>
<text x="266" y="3264.5" font-family='"Liberation Sans", Arial, Helvetica, sans-serif' font-size="68" text-anchor="end" fill="#1c1c1c">1</text>
<text x="266" y="3049.5" font-family='"Liberation Sans", Arial, Helvetica, sans-serif' font-size="68" text-anchor="end" fill="#1c1c1c">2</text>
<text x="266" y="2834.5" font-family='"Liberation Sans", Arial, Helvetica, sans-serif' font-size="68" text-anchor="end" fill="#1c1c1c">3</text>
<text x="266" y="2619.5" font-family='"Liberation Sans", Arial, Helvetica, sans-serif' font-size="68" text-anchor="end" fill="#1c1c1c">4</text>
<text x="266" y="2404.5" font-family='"Liberation Sans", Arial, Helvetica, sans-serif' font-size="68" text-anchor="end" fill="#1c1c1c">5</text>
<text x="266" y="2189.5" font-family='"Liberation Sans", Arial, Helvetica, sans-serif' font-size="68" text-anchor="end" fill="#1c1c1c">6</text>
<text x="266" y="1974.5" font-family='"Liberation Sans", Arial, Helvetica, sans-serif' font-size="68" text-anchor="end" fill="#1c1c1c">7</text>
<text x="1302" y="3621" font-family='"Liberation Sans", Arial, Helvetica, sans-serif' font-size="81.5" text-anchor="middle" fill="#1c1c1c">Energy (eV)</text>
<text transform="translate(174.5,2953.3) rotate(-90) scale(1.034,1)" x="0" y="0" font-family='"Liberation Sans", Arial, Helvetica, sans-serif' font-size="80" fill="#1c1c1c">[F(R)*hv]<tspan font-size="46" dy="-37">1/2</tspan></text>
<text x="380" y="1921" font-family='"Liberation Sans", Arial, Helvetica, sans-serif' font-size="86" fill="#111">b)</text>
</g></svg>
</body></html>
